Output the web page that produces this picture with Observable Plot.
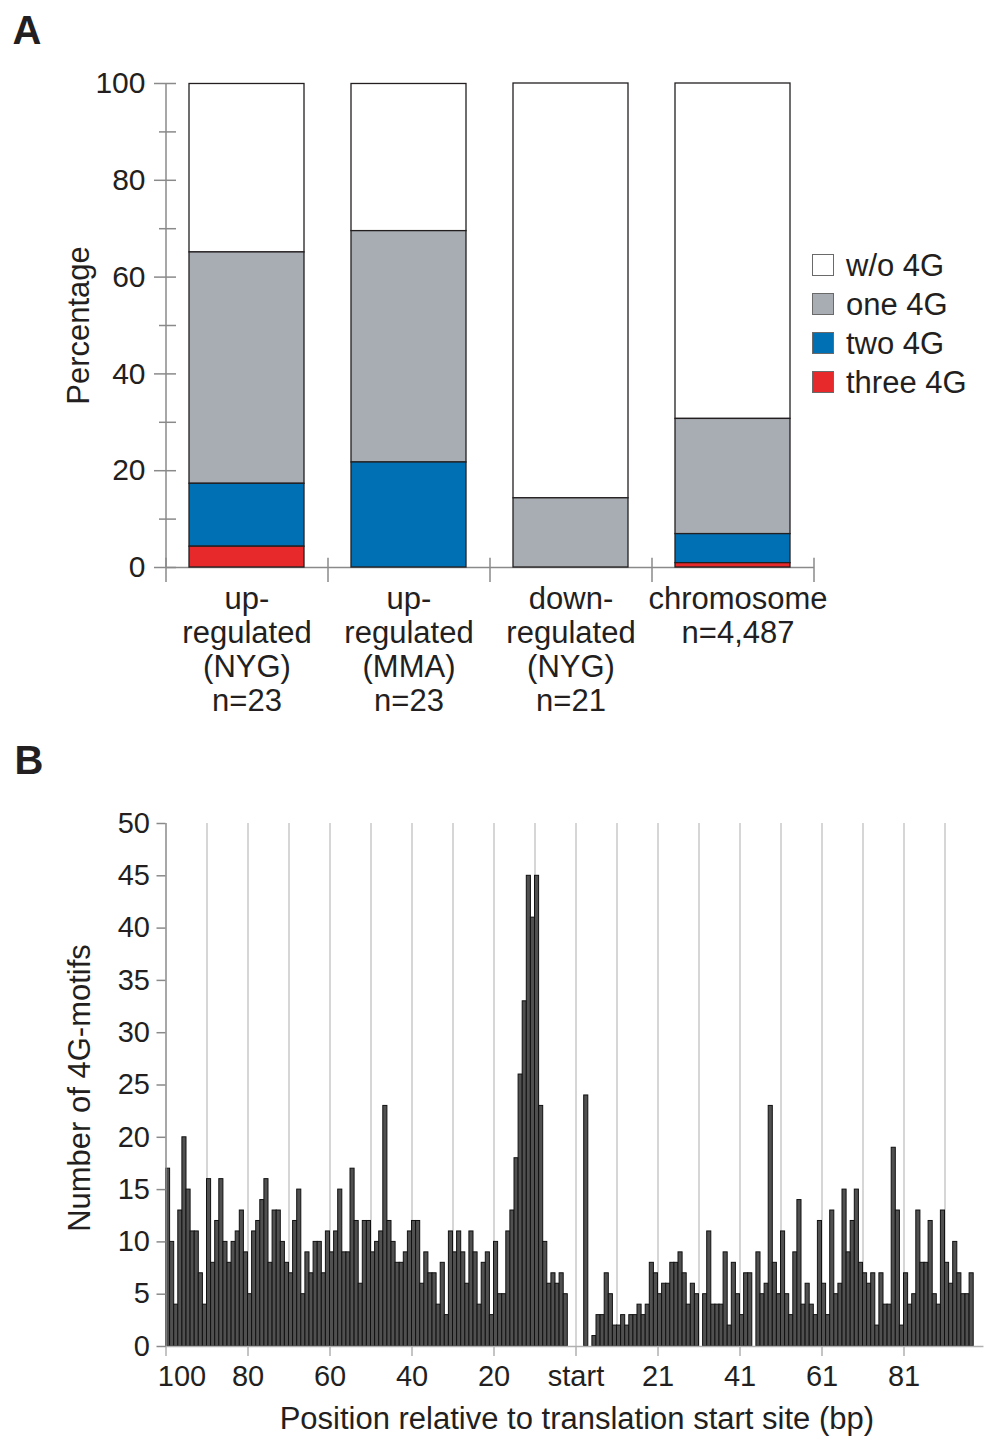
<!DOCTYPE html>
<html><head><meta charset="utf-8">
<script src="https://cdn.jsdelivr.net/npm/d3@7"></script>
<script src="https://cdn.jsdelivr.net/npm/@observablehq/plot@0.6"></script>
<style>
body{margin:0;background:#fff;}
#wrap{position:relative;width:984px;height:1436px;font-family:"Liberation Sans",Arial,Helvetica,sans-serif;color:#231f20;}
#wrap svg{position:absolute;left:0;}
.leg{position:absolute;left:812px;height:31px;display:flex;align-items:center;font-size:31px;line-height:31px;white-space:nowrap;}
.sw{width:22px;height:22px;border:1.5px solid #6a6a6a;margin-right:12px;box-sizing:border-box;}
</style></head>
<body><div id="wrap"></div>
<script>
// ---------- Panel A data ----------
const categories = ["upNYG", "upMMA", "downNYG", "chromosome"];
const categoryLabels = ["up-\nregulated\n(NYG)\nn=23", "up-\nregulated\n(MMA)\nn=23", "down-\nregulated\n(NYG)\nn=21", "chromosome\nn=4,487"];
const seriesNames = ["w/o 4G", "one 4G", "two 4G", "three 4G"];
const seriesColors = ["#ffffff", "#a8adb3", "#0070b5", "#e8292b"];
const pctNone  = [34.8, 30.4, 85.7, 69.3];
const pctOne   = [47.8, 47.8, 14.3, 23.8];
const pctTwo   = [13.0, 21.7, 0, 6.0];
const pctThree = [4.3, 0, 0, 0.9];
const yTicksA = [0, 20, 40, 60, 80, 100];
const yMinorA = [10, 30, 50, 70, 90];

// ---------- Panel B data ----------
// positions -100 .. -1 (upstream of start)
const upstreamCounts = [17,10,4,13,20,15,11,11,7,4, 16,8,12,16,10,8,10,11,13,9,
  5,11,12,14,16,8,13,13,10,8, 7,12,15,5,9,7,10,10,7,11,
  9,11,15,9,9,17,12,6,12,12, 9,10,11,23,12,10,8,8,9,11,
  12,12,6,9,7,7,4,8,3,11, 9,11,9,6,11,9,4,8,9,3,
  10,5,5,11,13,18,26,33,45,41, 45,23,10,6,7,6,7,5,0,0];
// positions start(+1) .. +97 (downstream)
const downstreamCounts = [0,0,24,0,1,3,3,7,5,2, 2,3,2,3,3,4,3,4,8,7,
  5,6,6,8,8,9,7,4,6,5, 0,5,11,4,4,4,9,2,8,5,
  3,7,7,0,9,5,6,23,8,5, 11,5,3,9,14,4,6,4,3,12,
  6,3,13,5,6,15,9,12,15,8, 7,6,7,2,7,4,4,19,13,2,
  7,4,5,13,8,8,12,5,4,13, 8,6,10,7,5,5,7];
const xTickPositions = [-100, -80, -60, -40, -20, 0, 20, 40, 60, 80];
const xTickLabels = ["100", "80", "60", "40", "20", "start", "21", "41", "61", "81"];
const gridPositions = [-90,-80,-70,-60,-50,-40,-30,-20,-10,0,10,20,30,40,50,60,70,80,90];
const yTicksB = [0,5,10,15,20,25,30,35,40,45,50];

const FONT = '"Liberation Sans", Arial, Helvetica, sans-serif';
const INK = "#231f20";
const GRAY = "#8a8a8a";
const W = 984;

// ---------- Panel A ----------
const rowsA = [];
const seriesVals = [pctNone, pctOne, pctTwo, pctThree];
categories.forEach((c, i) => seriesNames.forEach((s, k) => {
  if (seriesVals[k][i] > 0) rowsA.push({cat: c, series: s, value: seriesVals[k][i]});
}));
const labelOf = Object.fromEntries(categories.map((c, i) => [c, categoryLabels[i]]));
const mA = {left: 166, right: 170, top: 83, bottom: 153};
const frameWA = W - mA.left - mA.right;
const stepA = frameWA / categories.length;

const plotA = Plot.plot({
  width: W, height: 720,
  marginLeft: mA.left, marginRight: mA.right, marginTop: mA.top, marginBottom: mA.bottom,
  style: {fontFamily: FONT, color: INK, background: "transparent", overflow: "visible"},
  x: {domain: categories, paddingInner: 0.29, paddingOuter: 0.145, axis: null},
  y: {domain: [0, 100], axis: null},
  color: {domain: seriesNames, range: seriesColors},
  marks: [
    Plot.ruleY([0], {stroke: GRAY, strokeWidth: 1.5}),
    Plot.rect([0], {y1: d => 0, y2: d => 100, insetLeft: -0.75, insetRight: frameWA - 0.75, fill: GRAY}),
    Plot.tickY(yTicksA, {y: d => d, insetLeft: -12, insetRight: frameWA - 10, stroke: GRAY, strokeWidth: 1.5}),
    Plot.tickY(yMinorA, {y: d => d, insetLeft: -7, insetRight: frameWA - 10, stroke: GRAY, strokeWidth: 1.5}),
    Plot.ruleX(categories, {x: d => d, dx: -stepA / 2, y1: d => -3.1, y2: d => 1.9, stroke: GRAY, strokeWidth: 1.5}),
    Plot.ruleX(categories.slice(-1), {x: d => d, dx: stepA / 2, y1: d => -3.1, y2: d => 1.9, stroke: GRAY, strokeWidth: 1.5}),
    Plot.barY(rowsA, {x: "cat", y: "value", fill: "series", order: ["three 4G", "two 4G", "one 4G", "w/o 4G"], stroke: INK, strokeWidth: 1.3}),
    Plot.axisY({ticks: yTicksA, tickSize: 0, tickPadding: 21, fontSize: 30, label: null}),
    Plot.text(categories.slice(0, 3), {x: d => d, y: d => 0, text: d => labelOf[d], lineAnchor: "top", dy: 17, lineHeight: 1.1, fontSize: 31, fill: INK}),
    Plot.text(categories.slice(3), {x: d => d, y: d => 0, text: d => labelOf[d], lineAnchor: "top", dy: 17, dx: 5, lineHeight: 1.1, fontSize: 31, fill: INK}),
    Plot.text(["Percentage"], {frameAnchor: "left", textAnchor: "middle", lineAnchor: "middle", rotate: -90, dx: -87, fontSize: 31, fill: INK}),
    Plot.text(["A"], {frameAnchor: "top-left", textAnchor: "start", lineAnchor: "top", dx: -154, dy: -68, fontSize: 40, fontWeight: "bold", fill: INK})
  ]
});
plotA.style.top = "0px";

// ---------- Panel B ----------
const bars = [
  ...upstreamCounts.map((c, i) => ({pos: i - upstreamCounts.length, count: c})),
  ...downstreamCounts.map((c, j) => ({pos: j, count: c}))
].filter(d => d.count > 0);
const mB = {left: 165.5, right: 10.8, top: 103, bottom: 90};
const frameWB = W - mB.left - mB.right;
const tickText = Object.fromEntries(xTickPositions.map((p, i) => [p, xTickLabels[i]]));

const plotB = Plot.plot({
  width: W, height: 716,
  marginLeft: mB.left, marginRight: mB.right, marginTop: mB.top, marginBottom: mB.bottom,
  style: {fontFamily: FONT, color: INK, background: "transparent", overflow: "visible"},
  x: {domain: [-100, 97], axis: null},
  y: {domain: [0, 50], axis: null},
  marks: [
    Plot.ruleX(gridPositions, {stroke: "#c8c8c8", strokeWidth: 1.5}),
    Plot.ruleX(xTickPositions, {y1: d => 0, y2: d => -0.95, stroke: "#b0b0b0", strokeWidth: 1.5}),
    Plot.rect(bars, {x1: "pos", x2: d => d.pos + 1, y1: d => 0, y2: "count", fill: "#505050", stroke: "#111", strokeWidth: 1}),
    Plot.ruleX([-100], {stroke: GRAY, strokeWidth: 1.5}),
    Plot.ruleY([0], {x1: d => -100, x2: d => 99.5, stroke: "#b0b0b0", strokeWidth: 1.5}),
    Plot.tickY(yTicksB, {y: d => d, insetLeft: -9, insetRight: frameWB, stroke: GRAY, strokeWidth: 1.5}),
    Plot.axisY({ticks: yTicksB, tickSize: 0, tickPadding: 16, fontSize: 29, label: null}),
    Plot.text(xTickPositions.slice(1), {x: d => d, y: d => 0, text: d => tickText[d], dy: 30, fontSize: 29, fill: INK}),
    Plot.text(xTickPositions.slice(0, 1), {x: d => d, y: d => 0, text: d => tickText[d], dy: 30, dx: 16, fontSize: 29, fill: INK}),
    Plot.text(["Number of 4G-motifs"], {frameAnchor: "left", textAnchor: "middle", lineAnchor: "middle", rotate: -90, dx: -85.5, dy: 3, fontSize: 31, fill: INK}),
    Plot.text(["Position relative to translation start site (bp)"], {frameAnchor: "bottom", textAnchor: "middle", lineAnchor: "middle", dy: 73, dx: 7, fontSize: 31, fill: INK}),
    Plot.text(["B"], {frameAnchor: "top-left", textAnchor: "start", lineAnchor: "top", dx: -151.5, dy: -78, fontSize: 40, fontWeight: "bold", fill: INK})
  ]
});
plotB.style.top = "720px";

const wrap = document.getElementById("wrap");
wrap.appendChild(plotA);
wrap.appendChild(plotB);

// legend for panel A
const legendCenters = [265, 304, 343, 382];
seriesNames.forEach((s, k) => {
  const row = document.createElement("div");
  row.className = "leg";
  row.style.top = (legendCenters[k] - 15.5) + "px";
  const sw = document.createElement("div");
  sw.className = "sw";
  sw.style.background = seriesColors[k];
  const t = document.createElement("span");
  t.textContent = s;
  row.appendChild(sw); row.appendChild(t);
  wrap.appendChild(row);
});
</script>
</body></html>
